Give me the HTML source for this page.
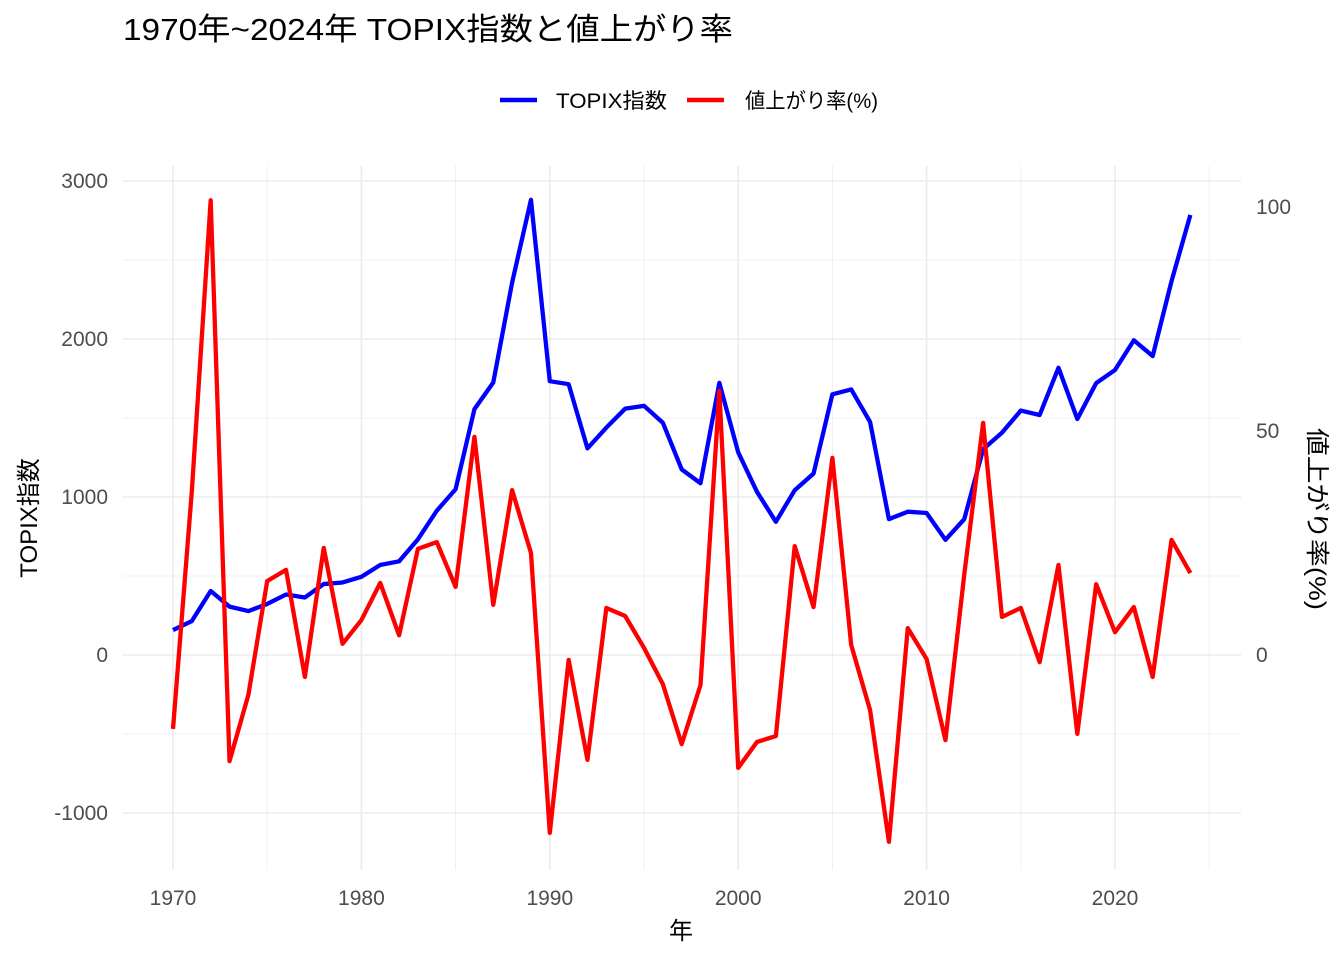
<!DOCTYPE html>
<html><head><meta charset="utf-8"><style>
body{margin:0;background:#fff;}
svg text{font-family:"Liberation Sans","Noto Sans CJK JP",sans-serif;}
</style></head><body>
<svg id="chart" width="1344" height="960" xmlns="http://www.w3.org/2000/svg">
<text x="123" y="40" font-size="31" fill="#000" textLength="610" lengthAdjust="spacingAndGlyphs">1970年~2024年 TOPIX指数と値上がり率</text>
<g>
<g><line x1="500" y1="100" x2="537" y2="100" stroke="#0000ff" stroke-width="4.5"/><text x="556" y="108" font-size="21" fill="#000" textLength="111" lengthAdjust="spacingAndGlyphs">TOPIX指数</text></g>
<g><line x1="687" y1="100" x2="724" y2="100" stroke="#ff0000" stroke-width="4.5"/><text x="745" y="108" font-size="21" fill="#000" textLength="133" lengthAdjust="spacingAndGlyphs">値上がり率(%)</text></g>
</g>
<g id="grid"></g>
<g id="axes"></g>
<g id="series"></g>
<text x="681" y="939" font-size="24" text-anchor="middle" fill="#000">年</text>
<text transform="translate(37,518) rotate(-90)" font-size="24" text-anchor="middle" fill="#000">TOPIX指数</text>
<text transform="translate(1309,519) rotate(90)" font-size="24" text-anchor="middle" fill="#000" textLength="182" lengthAdjust="spacingAndGlyphs">値上がり率(%)</text>
</svg>
<script>
const years=[];for(let y=1970;y<=2024;y++)years.push(y);
const topix=[158,215,405,306,278,323,383,364,449,459,495,570,593,732,913,1049,1556,1725,2357,2881,1733,1714,1308,1439,1559,1577,1470,1175,1087,1722,1283,1032,843,1043,1149,1650,1681,1475,860,907,899,729,860,1302,1407,1547,1519,1818,1494,1721,1804,1992,1892,2366,2785];
const rate=[-16.5,36.6,101.5,-23.7,-8.9,16.5,19.0,-4.9,23.9,2.5,7.8,16.1,4.4,23.7,25.2,15.2,48.7,11.2,36.8,22.8,-39.7,-1.1,-23.4,10.5,8.7,1.6,-6.5,-19.9,-6.7,58.9,-25.2,-19.4,-18.1,24.3,10.7,44.0,2.2,-12.3,-41.7,6.0,-0.9,-19.0,18.0,51.8,8.5,10.5,-1.6,20.1,-17.6,15.8,5.1,10.7,-4.9,25.7,18.3];
const leftTicks=[-1000,0,1000,2000,3000];
const rightTicks=[0,50,100];
const xTicks=[1970,1980,1990,2000,2010,2020];
const X=y=>173+(y-1970)*18.84;
const YL=v=>655-v*0.158;
const YR=v=>655-v*4.48;
const NS="http://www.w3.org/2000/svg";
function mk(tag,attrs,parent,txt){const e=document.createElementNS(NS,tag);for(const k in attrs)e.setAttribute(k,attrs[k]);if(txt!==undefined)e.textContent=txt;document.getElementById(parent).appendChild(e);return e;}
const L=123,R=1241,T=166,B=870;
for(let v=-1500;v<=3000;v+=500){if(YL(v)<T||YL(v)>B)continue;const g=mk('line',{x1:L,x2:R,y1:YL(v),y2:YL(v),stroke:'#ebebeb','stroke-width':v%1000===0?1.6:0.8},'grid');

}
for(let y=1965;y<=2030;y+=5){if(X(y)<L||X(y)>R)continue;const g=mk('line',{x1:X(y),x2:X(y),y1:T,y2:B,stroke:'#ebebeb','stroke-width':y%10===0?1.6:0.8},'grid');

}
leftTicks.forEach(v=>{const t=mk('text',{x:108,y:YL(v)+7,'font-size':21,'text-anchor':'end',fill:'#4d4d4d'},'axes',String(v));

});
rightTicks.forEach(v=>{const t=mk('text',{x:1256,y:YR(v)+7,'font-size':21,'text-anchor':'start',fill:'#4d4d4d'},'axes',String(v));

});
xTicks.forEach(v=>{const t=mk('text',{x:X(v),y:905,'font-size':21,'text-anchor':'middle',fill:'#4d4d4d'},'axes',String(v));

});
const p1=mk('polyline',{points:years.map((y,i)=>X(y)+','+YL(topix[i])).join(' '),fill:'none',stroke:'#0000ff','stroke-width':4.3,'stroke-linejoin':'round'},'series');


const p2=mk('polyline',{points:years.map((y,i)=>X(y)+','+YR(rate[i])).join(' '),fill:'none',stroke:'#ff0000','stroke-width':4.3,'stroke-linejoin':'round'},'series');


</script>
</body></html>
